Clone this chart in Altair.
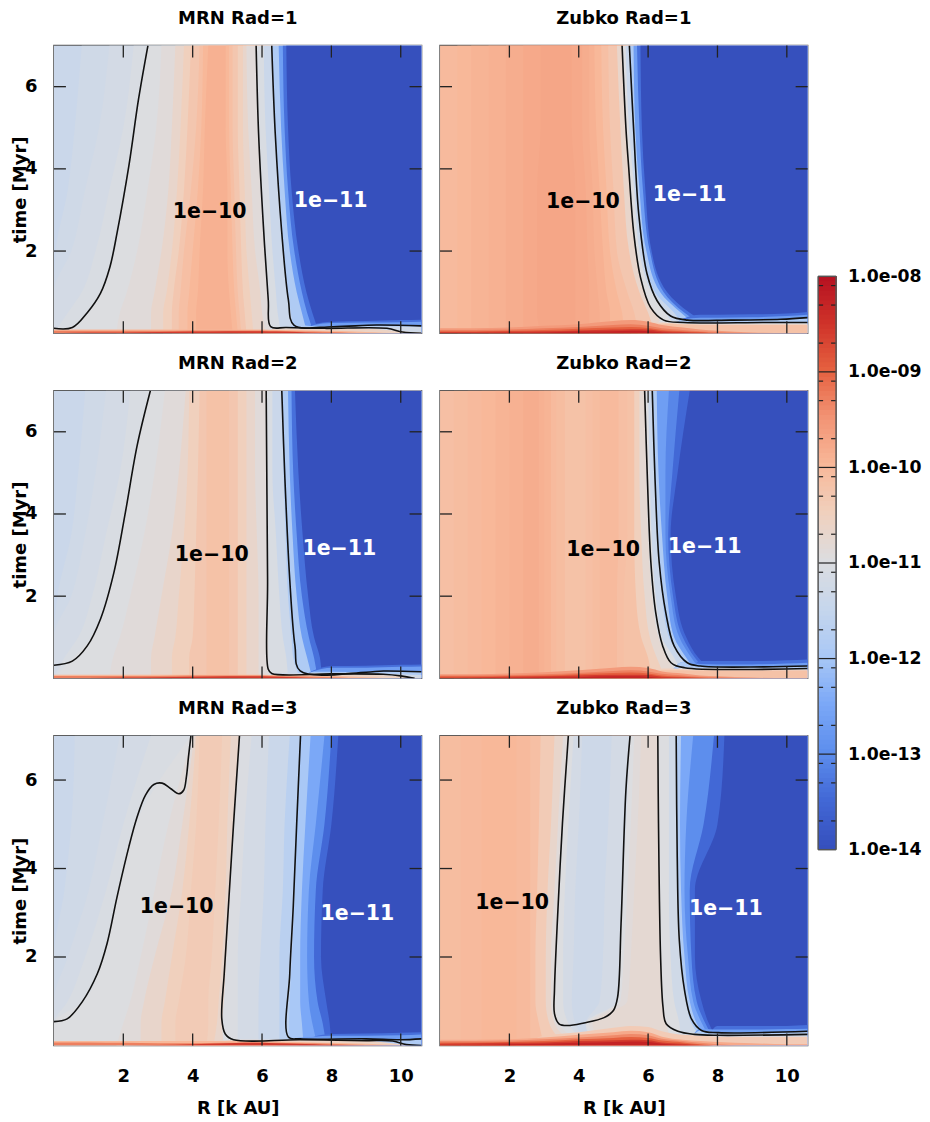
import math
import altair as alt
import pandas as pd

FONT = "DejaVu Sans"
T = [0, 0.5, 1, 2, 3.5, 5, 7]
BR = [0, 1, 2, 3, 4, 5, 5.5, 6, 6.4, 7, 7.5, 8, 9, 10, 10.6]
CM_LEVELS = [-14, -13.5, -13, -12.5, -12, -11.5, -11, -10.5, -10, -9.5, -9, -8.5, -8]
CM_COLORS = ["#3650bd", "#4268d6", "#5d8eed", "#7ba8f7", "#a9c8f6", "#c6d6ec", "#dcdde0",
             "#f0d0bd", "#f8b899", "#f29374", "#e5603f", "#ce3129", "#b40f20"]

# ---- vertical colour strips: level and left edge R at each T ----
P1_LEVELS = [-11.4, -11.3, -11.2, -11.1, -11.0, -10.9, -10.7, -10.5, -10.3, -10.15, -10, -9.9,
             -10, -10.15, -10.3, -10.5, -10.7, -10.9, -11.1, -11.4, -11.9, -12.7, -13.4, -14]
P1_EDGES = [
    [0, 0, 0, 0, 0, 0, 0], [0, 0, 0, .05, .4, .6, .8], [0, 0, 0, .5, .9, 1.3, 1.6],
    [0, .4, .8, 1.2, 1.6, 2, 2.3], [.3, .96, 1.35, 1.75, 2.05, 2.35, 2.71],
    [1.8, 1.9, 2.1, 2.4, 2.7, 2.95, 3.1], [2.8, 2.8, 2.9, 3.1, 3.3, 3.4, 3.5],
    [3.15, 3.15, 3.25, 3.4, 3.55, 3.65, 3.75], [3.4, 3.4, 3.45, 3.6, 3.75, 3.85, 3.95],
    [3.6, 3.6, 3.65, 3.75, 3.95, 4.1, 4.2], [3.85, 3.85, 3.9, 4, 4.15, 4.25, 4.3],
    [4.1, 4.1, 4.15, 4.2, 4.3, 4.35, 4.45], [5.15, 5.1, 5.05, 5, 5, 4.95, 4.95],
    [5.3, 5.25, 5.2, 5.15, 5.1, 5.05, 5.05], [5.4, 5.35, 5.3, 5.25, 5.2, 5.15, 5.15],
    [5.55, 5.5, 5.45, 5.4, 5.35, 5.3, 5.3], [5.75, 5.7, 5.65, 5.55, 5.5, 5.45, 5.45],
    [6.1, 6, 5.95, 5.8, 5.7, 5.6, 5.55], [6.25, 6.2, 6.16, 6.08, 5.97, 5.89, 5.83],
    [6.55, 6.45, 6.4, 6.3, 6.2, 6.1, 6.05], [6.92, 6.83, 6.74, 6.6, 6.48, 6.37, 6.28],
    [7.3, 7.15, 7, 6.8, 6.65, 6.55, 6.48], [7.5, 7.3, 7.15, 6.93, 6.75, 6.65, 6.6],
    [7.65, 7.45, 7.28, 7.05, 6.85, 6.75, 6.7]]

P2_LEVELS = [-10.05, -10, -9.95, -9.9, -9.85, -9.8, -9.75, -9.8, -9.85, -9.9, -10, -10.15, -10.3, -10.7,
             -11, -11.4, -11.9, -12.7, -13.4, -14]
P2_EDGES = [
    [0, 0, 0, 0, 0, 0, 0], [.5, .5, .5, .5, .5, .5, .5], [.9, .9, .9, .9, .9, .9, .9],
    [1.4, 1.4, 1.4, 1.4, 1.4, 1.4, 1.4], [1.9, 1.9, 1.9, 1.9, 1.9, 1.9, 1.9],
    [2.4, 2.4, 2.4, 2.4, 2.4, 2.4, 2.4], [2.9, 2.8, 2.8, 2.8, 2.8, 2.9, 2.9],
    [3.9, 3.9, 3.9, 3.9, 3.9, 3.8, 3.8], [4.3, 4.3, 4.3, 4.25, 4.2, 4.1, 4.1],
    [4.6, 4.6, 4.55, 4.45, 4.4, 4.3, 4.3], [4.9, 4.9, 4.8, 4.7, 4.6, 4.5, 4.45],
    [5.3, 5.25, 5.1, 4.9, 4.8, 4.7, 4.65], [5.7, 5.6, 5.4, 5.1, 5, 4.9, 4.85],
    [6.2, 6, 5.75, 5.45, 5.3, 5.2, 5.1], [6.6, 6.2, 5.88, 5.64, 5.49, 5.36, 5.25],
    [6.9, 6.5, 6.1, 5.75, 5.6, 5.45, 5.35], [7.2, 6.75, 6.2, 5.85, 5.67, 5.55, 5.46],
    [7.7, 6.95, 6.35, 5.95, 5.75, 5.63, 5.58], [8, 7.05, 6.45, 6.05, 5.85, 5.75, 5.68],
    [8.2, 7.2, 6.55, 6.1, 5.92, 5.82, 5.78]]

P3_LEVELS = [-11.4, -11.3, -11.2, -11.1, -11.0, -10.9, -10.7, -10.5, -10.3, -10.2,
             -10.3, -10.5, -10.7, -10.9, -11.1, -11.4, -11.9, -12.7, -13.4, -14]
P3_EDGES = [
    [0, 0, 0, 0, 0, 0, 0], [0, 0, 0, .1, .5, .7, .9], [0, 0, 0, .5, .9, 1.2, 1.5],
    [0, .3, .7, 1.1, 1.5, 1.9, 2.2], [0, .55, 1.1, 1.55, 1.95, 2.25, 2.78],
    [1.6, 1.7, 1.9, 2.2, 2.6, 2.9, 3.2], [2.8, 2.8, 2.9, 3.1, 3.4, 3.6, 3.8],
    [3.4, 3.4, 3.5, 3.6, 3.75, 3.85, 3.9], [3.9, 3.9, 4, 4.05, 4.1, 4.15, 4.2],
    [4.4, 4.4, 4.4, 4.4, 4.4, 4.4, 4.4], [5.05, 5.05, 5.05, 5.05, 5.05, 5.05, 5.05],
    [5.3, 5.3, 5.3, 5.3, 5.3, 5.3, 5.3], [5.55, 5.55, 5.55, 5.55, 5.55, 5.55, 5.55],
    [5.9, 5.9, 5.9, 5.9, 5.85, 5.8, 5.8], [6.18, 6.18, 6.17, 6.16, 6.15, 6.13, 6.12],
    [6.75, 6.7, 6.6, 6.5, 6.4, 6.3, 6.3], [7.1, 6.9, 6.85, 6.75, 6.68, 6.62, 6.57],
    [7.45, 7.3, 7.15, 7, 6.88, 6.8, 6.75], [7.6, 7.5, 7.35, 7.15, 7, 6.9, 6.85],
    [7.72, 7.67, 7.5, 7.33, 7.17, 7.05, 6.95]]

P4_LEVELS = [-10.15, -10.1, -10.05, -10, -9.95, -9.9, -9.85, -9.9, -9.95, -10.05, -10.1, -10.2, -10.15, -10.1, -10.05,
             -10.15, -10.2, -10.5, -10.8, -11, -11.4, -11.9, -12.7, -13.1, -13.5, -14]
P4_EDGES = [
    [0, 0, 0, 0, 0, 0, 0], [.4, .4, .4, .4, .4, .4, .4], [.8, .8, .8, .8, .8, .8, .8],
    [1.2, 1.2, 1.2, 1.2, 1.2, 1.2, 1.2], [1.6, 1.6, 1.6, 1.6, 1.6, 1.6, 1.6],
    [2, 2, 2, 2, 2, 2, 2], [2.4, 2.4, 2.4, 2.4, 2.4, 2.4, 2.4], [2.85, 2.85, 2.85, 2.85, 2.85, 2.85, 2.85],
    [3, 3, 3, 3, 3, 3, 3], [3.2, 3.2, 3.2, 3.2, 3.2, 3.2, 3.2], [3.35, 3.35, 3.35, 3.35, 3.35, 3.35, 3.35],
    [3.6, 3.6, 3.6, 3.6, 3.6, 3.6, 3.6], [4.2, 4.2, 4.2, 4.2, 4.2, 4.2, 4.2], [4.4, 4.4, 4.4, 4.4, 4.4, 4.4, 4.4],
    [4.6, 4.6, 4.6, 4.6, 4.6, 4.6, 4.6], [5.1, 5.1, 5.1, 5.1, 5.15, 5.15, 5.15],
    [5.3, 5.3, 5.3, 5.3, 5.4, 5.4, 5.4], [6.1, 6, 5.8, 5.65, 5.6, 5.6, 5.6],
    [6.5, 6.25, 6.05, 5.9, 5.8, 5.75, 5.75], [6.9, 6.55, 6.3, 6.12, 6, 5.95, 5.9],
    [7.05, 6.75, 6.4, 6.22, 6.1, 6.05, 6], [7.2, 6.95, 6.6, 6.4, 6.27, 6.18, 6.12],
    [7.5, 7.1, 6.75, 6.55, 6.4, 6.3, 6.25], [7.7, 7.25, 6.9, 6.65, 6.5, 6.5, 6.6],
    [7.9, 7.35, 7, 6.72, 6.58, 6.7, 6.9], [8.1, 7.45, 7.1, 6.8, 6.65, 6.85, 7.2]]

P5_LEVELS = [-11.4, -11.3, -11.2, -11.1, -11.0, -10.9, -10.7, -10.5, -10.4, -10.5, -10.7,
             -11.05, -11.2, -11.4, -11.7, -12, -12.5, -13, -13.5, -14]
P5_EDGES = [
    [0, 0, 0, 0, 0, 0, 0], [0, 0, 0, 0, .3, .5, .6], [0, 0, 0, .4, 1, 1.4, 1.9],
    [0, 0, .4, .9, 1.5, 2, 2.8], [0, 0, .85, 1.42, 1.85, 2.35, 3.95],
    [1.8, 2, 2.2, 2.5, 2.9, 3.3, 4], [2.5, 2.5, 2.6, 2.9, 3.4, 3.7, 4.05],
    [3.1, 3.1, 3.2, 3.4, 3.7, 3.9, 4.1], [3.5, 3.5, 3.6, 3.8, 3.95, 4.1, 4.2],
    [4.4, 4.45, 4.45, 4.55, 4.65, 4.75, 4.85], [4.6, 4.7, 4.75, 4.85, 4.95, 5, 5.1],
    [4.9, 4.85, 4.9, 4.97, 5.08, 5.18, 5.35], [5.3, 5.3, 5.3, 5.3, 5.4, 5.5, 5.7],
    [5.9, 5.9, 5.9, 5.95, 6.05, 6.1, 6.2], [6.5, 6.5, 6.5, 6.5, 6.6, 6.65, 6.8],
    [6.8, 6.78, 6.8, 6.86, 6.95, 7, 7.11], [7.2, 7.15, 7.1, 7.1, 7.15, 7.25, 7.4],
    [7.6, 7.45, 7.35, 7.3, 7.35, 7.55, 7.8], [7.85, 7.75, 7.6, 7.5, 7.55, 7.8, 8],
    [8, 7.95, 7.85, 7.7, 7.75, 8, 8.2]]

P6_LEVELS = [-10.1, -10.05, -10, -10.05, -10.15, -10.4, -10.7, -10.9, -11, -11.2, -11.35, -11.2, -11, -10.9, -10.8,
             -11, -11.3, -11.9, -12.5, -13, -13.5, -14]
P6_EDGES = [
    [0, 0, 0, 0, 0, 0, 0], [.6, .6, .6, .6, .6, .6, .6], [1.2, 1.2, 1.2, 1.2, 1.2, 1.2, 1.2],
    [2.2, 2.2, 2.2, 2.2, 2.2, 2.2, 2.2], [2.6, 2.6, 2.6, 2.6, 2.6, 2.6, 2.6],
    [3, 2.85, 2.75, 2.75, 2.8, 2.85, 2.9], [3.6, 3.15, 3.05, 3.05, 3.1, 3.2, 3.3],
    [3.9, 3.3, 3.2, 3.2, 3.3, 3.4, 3.55], [4.2, 3.43, 3.32, 3.35, 3.42, 3.53, 3.7],
    [4.3, 3.7, 3.55, 3.55, 3.6, 3.7, 3.85], [4.4, 3.9, 3.8, 3.85, 3.9, 4, 4.1],
    [4.5, 4.2, 4.6, 4.7, 4.75, 4.85, 4.95], [4.5, 4.2, 5.12, 5.18, 5.27, 5.37, 5.48],
    [4.6, 4.3, 5.2, 5.3, 5.4, 5.5, 5.6], [4.7, 4.4, 5.4, 5.5, 5.6, 5.7, 5.8],
    [6.7, 6.52, 6.42, 6.36, 6.32, 6.3, 6.28], [6.95, 6.9, 6.75, 6.65, 6.6, 6.6, 6.6],
    [7.7, 7.25, 7.1, 6.95, 6.86, 6.83, 6.81], [7.8, 7.4, 7.2, 7.05, 6.95, 6.92, 6.95],
    [7.9, 7.55, 7.3, 7.15, 7.05, 7.1, 7.3], [8, 7.65, 7.4, 7.25, 7.2, 7.6, 7.9],
    [8.1, 7.75, 7.54, 7.35, 7.35, 8, 8.2]]

# ---- bottom bands: level and top t at each BR ----
P1_BLEVELS = [-13.4, -12.7, -11.9, -11.3, -10.6, -10, -9.3, -8.6]
P1_BTOPS = [
    [0, 0, 0, 0, 0, 0, 0, 0, 0, 0, .22, .28, .3, .32, .33],
    [0, 0, 0, 0, 0, 0, 0, 0, 0, 0, .2, .25, .26, .27, .28],
    [0, 0, 0, 0, 0, 0, 0, 0, 0, .2, .17, .16, .18, .19, .18],
    [0, 0, 0, 0, 0, 0, 0, 0, .16, .16, .15, .15, .16, .16, .16],
    [0, 0, 0, 0, 0, 0, 0, 0, .12, .12, .11, .11, .11, .05, .02],
    [.09, .09, .09, .09, .09, .09, .09, .09, .08, .08, .07, .06, .03, 0, 0],
    [.06, .06, .06, .06, .07, .07, .07, .07, .06, .05, .04, .03, 0, 0, 0],
    [0, .02, .02, .03, .04, .05, .05, .05, .04, .03, .01, 0, 0, 0, 0]]

P2_BLEVELS = [-13.4, -12.7, -11.9, -11, -10.5, -10.2, -9.6, -9.3, -9, -8.6, -8.3]
P2_BTOPS = [
    [0, 0, 0, 0, 0, 0, 0, 0, 0, .35, .45, .45, .46, .48, .52],
    [0, 0, 0, 0, 0, 0, 0, 0, 0, .34, .38, .38, .39, .42, .45],
    [0, 0, 0, 0, 0, 0, 0, 0, 0, .33, .31, .31, .32, .34, .38],
    [0, 0, 0, 0, 0, 0, 0, 0, .32, .26, .25, .25, .25, .25, .25],
    [0, 0, 0, 0, 0, 0, 0, .25, .26, .23, .22, .22, .22, .22, .22],
    [0, 0, 0, 0, 0, 0, 0, 0, .23, .21, .2, .2, .2, .2, .2],
    [.12, .12, .14, .18, .22, .3, .32, .28, .2, .14, .09, .06, .02, 0, 0],
    [.08, .08, .09, .12, .15, .2, .22, .18, .12, .08, .05, .03, 0, 0, 0],
    [.05, .05, .06, .08, .11, .14, .15, .13, .08, .05, .03, 0, 0, 0, 0],
    [.03, .03, .04, .05, .07, .09, .1, .09, .05, .03, .01, 0, 0, 0, 0],
    [0, 0, .01, .02, .04, .05, .06, .05, .02, 0, 0, 0, 0, 0, 0]]

P3_BLEVELS = [-13.4, -12.7, -11.9, -11.3, -10.6, -10, -9.3, -8.6]
P3_BTOPS = [
    [0, 0, 0, 0, 0, 0, 0, 0, 0, 0, .2, .3, .31, .33, .34],
    [0, 0, 0, 0, 0, 0, 0, 0, 0, 0, .18, .26, .26, .28, .29],
    [0, 0, 0, 0, 0, 0, 0, 0, 0, 0, .16, .16, .15, .17, .16],
    [0, 0, 0, 0, 0, 0, 0, 0, .13, .13, .13, .13, .12, .1, .08],
    [0, 0, 0, 0, 0, 0, 0, 0, .1, .1, .1, .1, .09, .05, 0],
    [.09, .09, .09, .09, .09, .09, .09, .09, .08, .08, .07, .06, .03, 0, 0],
    [.06, .06, .06, .06, .07, .07, .07, .07, .06, .05, .04, .03, 0, 0, 0],
    [0, .01, .02, .03, .04, .05, .05, .05, .04, .03, .01, 0, 0, 0, 0]]

P4_BLEVELS = [-13.4, -12.7, -11.9, -11, -10.5, -10.2, -9.6, -9.3, -9, -8.6, -8.3]
P4_BTOPS = [
    [0, 0, 0, 0, 0, 0, 0, 0, 0, 0, .42, .42, .42, .44, .46],
    [0, 0, 0, 0, 0, 0, 0, 0, 0, .4, .35, .34, .34, .36, .38],
    [0, 0, 0, 0, 0, 0, 0, 0, 0, .4, .3, .29, .28, .29, .3],
    [0, 0, 0, 0, 0, 0, 0, 0, 0, .27, .25, .25, .24, .24, .24],
    [0, 0, 0, 0, 0, 0, 0, 0, .24, .23, .21, .2, .2, .2, .2],
    [0, 0, 0, 0, 0, 0, 0, 0, .2, .2, .19, .19, .19, .19, .19],
    [.1, .1, .12, .15, .2, .26, .28, .25, .17, .12, .07, .05, .02, 0, 0],
    [.07, .07, .08, .1, .13, .18, .2, .17, .11, .07, .04, .03, 0, 0, 0],
    [.05, .05, .06, .07, .1, .13, .14, .12, .07, .04, .02, 0, 0, 0, 0],
    [.02, .03, .04, .05, .07, .09, .09, .08, .04, .02, .01, 0, 0, 0, 0],
    [0, 0, .01, .02, .03, .05, .05, .04, .01, 0, 0, 0, 0, 0, 0]]

P5_BLEVELS = [-13.4, -12.7, -11.9, -10.6, -10, -9.3, -8.6]
P5_BTOPS = [
    [0, 0, 0, 0, 0, 0, 0, 0, 0, 0, .2, .26, .27, .29, .3],
    [0, 0, 0, 0, 0, 0, 0, 0, 0, .17, .2, .22, .22, .23, .25],
    [0, 0, 0, 0, 0, 0, 0, 0, 0, .15, .15, .15, .15, .13, .15],
    [0, 0, 0, 0, 0, .12, .13, .13, .13, .13, .13, .13, .11, .03, 0],
    [.1, .1, .1, .1, .1, .1, .1, .1, .09, .08, .07, .06, .04, .01, 0],
    [.07, .07, .06, .05, .05, .06, .07, .07, .06, .05, .05, .04, .01, 0, 0],
    [0, 0, 0, .01, .03, .05, .06, .06, .05, .04, .03, .01, 0, 0, 0]]

P6_BLEVELS = [-13.4, -12.7, -11.9, -11.2, -10.4, -9.8, -9.4, -9, -8.6, -8.3]
P6_BTOPS = [
    [0, 0, 0, 0, 0, 0, 0, 0, 0, 0, 0, .44, .44, .44, .46],
    [0, 0, 0, 0, 0, 0, 0, 0, 0, 0, .38, .36, .36, .37, .38],
    [0, 0, 0, 0, 0, 0, 0, 0, 0, 0, .34, .29, .29, .3, .32],
    [0, 0, 0, 0, 0, 0, 0, 0, 0, .32, .26, .25, .25, .26, .27],
    [0, 0, 0, .22, .3, .4, .44, .42, .32, .24, .22, .2, .2, .2, .2],
    [.13, .13, .14, .18, .24, .3, .33, .3, .2, .13, .1, .08, .05, .03, .03],
    [.1, .1, .11, .14, .18, .23, .26, .23, .15, .1, .06, .03, 0, 0, 0],
    [.07, .07, .08, .1, .14, .17, .19, .17, .11, .07, .03, 0, 0, 0, 0],
    [.04, .05, .06, .07, .1, .12, .13, .12, .07, .04, .01, 0, 0, 0, 0],
    [0, .01, .03, .04, .06, .08, .09, .08, .04, .01, 0, 0, 0, 0, 0]]

# ---- contour lines as (R, t) ----
P1_CONTOURS = [
    [(0, .12), (.53, .14), (.96, .5), (1.34, .97), (1.61, 1.6), (1.82, 2.44), (2.16, 4.07), (2.44, 5.7), (2.71, 7)],
    [(5.83, 7), (5.9, 4.88), (6.04, 2.6), (6.18, .81), (6.25, .16), (6.7, .14), (7.8, .12), (9.6, .12), (10.05, .03), (10.6, 0)],
    [(6.28, 7), (6.38, 4.88), (6.57, 2.44), (6.76, .81), (6.92, .2), (8.05, .16), (9.3, .2), (10.6, .18)]]
P2_CONTOURS = [
    [(5.25, 7), (5.36, 5), (5.44, 4.04), (5.59, 2.41), (5.78, 1.36), (6.07, .63), (6.45, .32), (7.03, .26), (9.3, .26), (10.6, .26)],
    [(5.46, 7), (5.59, 4.85), (5.73, 2.9), (5.97, 1.44), (6.26, .79), (6.65, .42), (7.13, .32), (8.38, .32), (9.83, .34), (10.6, .38)]]
P3_CONTOURS = [
    [(0, .32), (.53, .42), (.96, .79), (1.34, 1.44), (1.73, 2.58), (2.06, 4.04), (2.4, 5.67), (2.78, 7)],
    [(6.12, 7), (6.16, 2.4), (6.18, .22), (6.28, .12), (8, .11), (9.5, .1), (10, .06), (10.4, 0)],
    [(6.57, 7), (6.66, 4.85), (6.8, 2.4), (6.95, .79), (7.1, .18), (9, .15), (9.5, .18), (10.6, .16)]]
P4_CONTOURS = [
    [(5.9, 7), (5.98, 4.85), (6.08, 2.82), (6.22, 1.6), (6.42, .79), (6.66, .38), (7.05, .26), (10.6, .24)],
    [(6.12, 7), (6.2, 4.85), (6.32, 2.82), (6.51, 1.6), (6.75, .79), (7.13, .38), (7.5, .3), (9.35, .28), (10.6, .3)]]
P5_CONTOURS = [
    [(0, .54), (.38, .6), (.81, .98), (1.25, 1.62), (1.53, 2.3), (1.82, 3.36), (2.16, 4.49), (2.4, 5.17), (2.64, 5.66),
     (2.88, 5.9), (3.12, 5.93), (3.36, 5.81), (3.6, 5.69), (3.74, 5.77), (3.82, 6.08), (3.88, 6.53), (3.95, 7)],
    [(5.35, 7), (5.18, 5.02), (5.03, 3.13), (4.91, 1.62), (4.84, .6), (4.94, .26), (5.18, .13), (7.1, .13), (9, .11), (9.77, .1), (10.16, .02), (10.6, 0)],
    [(7.11, 7), (7, 5.02), (6.9, 3.13), (6.8, 1.62), (6.76, .19), (7.1, .15), (9, .15), (10, .13), (10.6, .15)]]
P6_CONTOURS = [
    [(3.7, 7), (3.53, 5.02), (3.38, 2.75), (3.3, 1.25), (3.3, .72), (3.43, .49), (3.67, .45), (4.15, .51), (4.73, .63),
     (5, .79), (5.12, 1.09), (5.22, 2.75), (5.36, 5.77), (5.48, 7)],
    [(6.28, 7), (6.3, 5.02), (6.36, 2), (6.43, .87), (6.52, .49), (6.86, .32), (7.34, .25), (8.02, .23), (10.6, .25)],
    [(6.81, 7), (6.84, 4.26), (6.9, 2.38), (7.05, 1.25), (7.25, .6), (7.54, .34), (8.02, .29), (10.6, .32)]]

# ---- in-plot labels (R, t) ----
LABEL_TEXTS = ["1e\u221210", "1e\u221211"]
P_LABELS = [[(4.49, 2.95), (7.98, 3.22)], [(4.12, 3.2), (7.2, 3.37)],
            [(4.55, 3.0), (8.23, 3.15)], [(4.7, 3.12), (7.63, 3.2)],
            [(3.54, 3.12), (8.75, 2.98)], [(2.08, 3.23), (8.24, 3.09)]]
TITLES = ["MRN Rad=1", "Zubko Rad=1", "MRN Rad=2", "Zubko Rad=2", "MRN Rad=3", "Zubko Rad=3"]
X_TICKS = [2, 4, 6, 8, 10]
Y_TICKS = [2, 4, 6]
CB_DECADES = [-14, -13, -12, -11, -10, -9, -8]
CB_FACTORS = [2, 5, 8]

XS = alt.Scale(domain=[0, 10.6], nice=False, zero=False)
YS = alt.Scale(domain=[0, 7], nice=False, zero=False)
CS = alt.Scale(domain=CM_LEVELS, range=CM_COLORS, clamp=True, interpolate="rgb")
W = 368
FRAME = "#555555"
INK = "#222222"


def panel(idx, levels, edges, blevels, btops, contours, h, left, bottom):
    strips = pd.DataFrame([
        {"s": i, "v": lv, "t": t, "left": e, "right": 10.6}
        for i, (lv, row) in enumerate(zip(levels, edges))
        for t, e in zip(T, row)
    ])
    bands = pd.DataFrame([
        {"s": i, "v": lv, "R": r, "top": t, "zero": 0}
        for i, (lv, row) in enumerate(zip(blevels, btops))
        for r, t in zip(BR, row)
    ])
    lines = pd.DataFrame([
        {"c": c, "o": k, "R": r, "t": t}
        for c, pts in enumerate(contours)
        for k, (r, t) in enumerate(pts)
    ])
    labels = pd.DataFrame([
        {"R": r, "t": t, "txt": LABEL_TEXTS[k], "col": "black" if k == 0 else "white"}
        for k, (r, t) in enumerate(P_LABELS[idx])
    ])
    xaxis = alt.Axis(values=X_TICKS, ticks=False, domain=False, grid=False, labels=bottom,
                     title="R [k AU]" if bottom else None, labelPadding=22 if bottom else 0, titlePadding=14,
                     labelFlush=False)
    yaxis = alt.Axis(values=Y_TICKS, ticks=False, domain=False, grid=False, labels=left,
                     title="time [Myr]" if left else None, labelPadding=17 if left else 0,
                     titleX=-24 if left else alt.Undefined, labelFlush=False)
    strip_layer = alt.Chart(strips).mark_area(orient="horizontal", interpolate="monotone", opacity=1, clip=True).encode(
        y=alt.Y("t:Q", scale=YS, axis=yaxis),
        x=alt.X("left:Q", scale=XS, axis=xaxis),
        x2="right:Q",
        detail="s:O",
        color=alt.Color("v:Q", scale=CS, legend=None),
    )
    band_layer = alt.Chart(bands).mark_area(interpolate="monotone", opacity=1, clip=True).encode(
        x=alt.X("R:Q", scale=XS), y=alt.Y("top:Q", scale=YS), y2="zero:Q",
        detail="s:O", color=alt.Color("v:Q", scale=CS, legend=None),
    )
    line_layer = alt.Chart(lines).mark_line(interpolate="catmull-rom", color="#111111", strokeWidth=1.6, clip=True).encode(
        x=alt.X("R:Q", scale=XS), y=alt.Y("t:Q", scale=YS), detail="c:O", order="o:Q",
    )
    text_layer = alt.Chart(labels).mark_text(font=FONT, fontWeight="bold", fontSize=20.5).encode(
        x=alt.X("R:Q", scale=XS), y=alt.Y("t:Q", scale=YS), text="txt:N",
        color=alt.Color("col:N", scale=None),
    )
    xt = pd.DataFrame({"v": X_TICKS})
    yt = pd.DataFrame({"v": Y_TICKS})
    tick = alt.Chart(xt).mark_rule(color=INK, strokeWidth=1.3)
    ytick = alt.Chart(yt).mark_rule(color=INK, strokeWidth=1.3)
    ticks = [
        tick.encode(x=alt.X("v:Q", scale=XS), y=alt.value(0), y2=alt.value(12)),
        tick.encode(x=alt.X("v:Q", scale=XS), y=alt.value(h - 12), y2=alt.value(h)),
        ytick.encode(y=alt.Y("v:Q", scale=YS), x=alt.value(0), x2=alt.value(12)),
        ytick.encode(y=alt.Y("v:Q", scale=YS), x=alt.value(W - 12), x2=alt.value(W)),
    ]
    return alt.layer(strip_layer, band_layer, line_layer, text_layer, *ticks).properties(
        width=W, height=h,
        title=alt.TitleParams(TITLES[idx], font=FONT, fontSize=18, fontWeight="bold", color="black", offset=17),
    )


p1 = panel(0, P1_LEVELS, P1_EDGES, P1_BLEVELS, P1_BTOPS, P1_CONTOURS, 288, True, False)
p2 = panel(1, P2_LEVELS, P2_EDGES, P2_BLEVELS, P2_BTOPS, P2_CONTOURS, 288, False, False)
p3 = panel(2, P3_LEVELS, P3_EDGES, P3_BLEVELS, P3_BTOPS, P3_CONTOURS, 288, True, False)
p4 = panel(3, P4_LEVELS, P4_EDGES, P4_BLEVELS, P4_BTOPS, P4_CONTOURS, 288, False, False)
p5 = panel(4, P5_LEVELS, P5_EDGES, P5_BLEVELS, P5_BTOPS, P5_CONTOURS, 310, True, True)
p6 = panel(5, P6_LEVELS, P6_EDGES, P6_BLEVELS, P6_BTOPS, P6_CONTOURS, 310, False, True)

grid = alt.vconcat(
    alt.hconcat(p1, p2, spacing=14.5),
    alt.hconcat(p3, p4, spacing=14.5),
    alt.hconcat(p5, p6, spacing=14.5),
    spacing=18.5,
)

# ---- colour bar ----
CBS = alt.Scale(domain=[-14, -8], range=[805, 231], nice=False, zero=False)
cb_levels = [k / 20 for k in range(-280, -160)]
cb_df = pd.DataFrame({"v": cb_levels, "top": [-8] * len(cb_levels)})
minor = pd.DataFrame({"v": [d + math.log10(f) for d in CB_DECADES[:-1] for f in CB_FACTORS]})
major = pd.DataFrame({"v": CB_DECADES[1:-1]})
ends = pd.DataFrame({"v": [CB_DECADES[0], CB_DECADES[-1]]})
side = pd.DataFrame({"a": [CB_DECADES[0]], "b": [CB_DECADES[-1]]})
cb_axis = alt.Axis(values=CB_DECADES, orient="right", ticks=False, domain=False, grid=False, title=None,
                   labelPadding=11.5, labelFontSize=17.3,
                   labelExpr="'1.0e-' + (abs(datum.value) < 10 ? '0' : '') + abs(datum.value)")
cb = alt.layer(
    alt.Chart(cb_df).mark_rect().encode(
        y=alt.Y("v:Q", scale=CBS, axis=cb_axis), y2="top:Q",
        x=alt.value(0), x2=alt.value(18),
        color=alt.Color("v:Q", scale=CS, legend=None),
    ),
    alt.Chart(minor).mark_rule(color=INK, strokeWidth=1.2).encode(
        y=alt.Y("v:Q", scale=CBS), x=alt.value(0), x2=alt.value(5)),
    alt.Chart(minor).mark_rule(color=INK, strokeWidth=1.2).encode(
        y=alt.Y("v:Q", scale=CBS), x=alt.value(13), x2=alt.value(18)),
    alt.Chart(major).mark_rule(color=INK, strokeWidth=1.2).encode(
        y=alt.Y("v:Q", scale=CBS), x=alt.value(0), x2=alt.value(18)),
    alt.Chart(ends).mark_rule(color=FRAME, strokeWidth=1.5).encode(
        y=alt.Y("v:Q", scale=CBS), x=alt.value(0), x2=alt.value(18)),
    alt.Chart(side).mark_rule(color=FRAME, strokeWidth=1.5).encode(
        y=alt.Y("a:Q", scale=CBS), y2="b:Q", x=alt.value(0)),
    alt.Chart(side).mark_rule(color=FRAME, strokeWidth=1.5).encode(
        y=alt.Y("a:Q", scale=CBS), y2="b:Q", x=alt.value(18)),
).properties(width=18, height=1000, view=alt.ViewConfig(stroke=None))

chart = alt.hconcat(grid, cb, spacing=8).resolve_scale(color="shared").properties(
    padding={"left": 3, "top": 0, "right": 0, "bottom": 0},
).configure_view(stroke=FRAME, strokeWidth=1.5).configure_axis(
    labelFont=FONT, labelFontSize=18, labelFontWeight="bold", labelColor="black",
    titleFont=FONT, titleFontSize=18, titleFontWeight="bold", titleColor="black",
).configure_concat(spacing=18)

chart.save("out.html", embed_options={"renderer": "svg", "actions": False})
